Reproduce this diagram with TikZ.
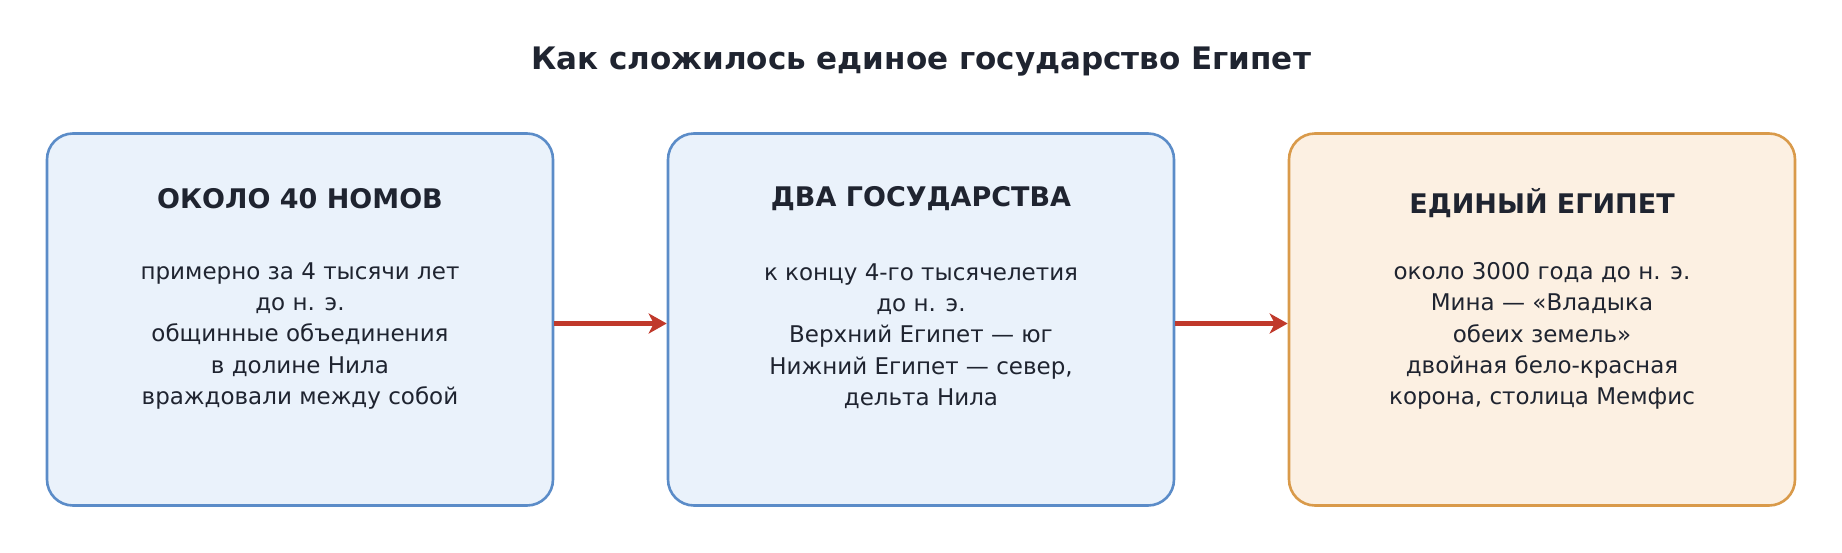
\documentclass[tikz,border=0pt]{standalone}
\usepackage{fontspec}
\setmainfont{DejaVu Sans}
\usetikzlibrary{arrows.meta}
\definecolor{txt}{HTML}{1F2430}
\definecolor{bb}{HTML}{5B8CC8}
\definecolor{bf}{HTML}{EAF2FB}
\definecolor{ob}{HTML}{D99A4A}
\definecolor{of}{HTML}{FCF0E2}
\definecolor{ar}{HTML}{C0392B}
\begin{document}
\begin{tikzpicture}[x=1pt,y=-1pt,
 box/.style={draw=bb,fill=bf,line width=2.6pt,rounded corners=26pt,minimum width=506pt,minimum height=372pt,inner sep=0},
 obox/.style={box,draw=ob,fill=of},
 head/.style={text=txt,font=\bfseries\fontsize{27}{32}\selectfont},
 body/.style={text=txt,align=center,font=\fontsize{23}{31.2}\selectfont},
 arr/.style={draw=ar,line width=4.5pt,-{Stealth[length=18pt,width=20pt,inset=5pt]}}]
\useasboundingbox (0,0) rectangle (1842,552);
\node[text=txt,font=\bfseries\fontsize{31}{36}\selectfont] (t) at (921,62) {Как сложилось единое государство Египет};
\node[box] (b1) at (300,319.5) {};
\node[box] (b2) at (921,319.5) {};
\node[obox] (b3) at (1542,319.5) {};
\node[head] (h1) at (300,199) {ОКОЛО 40 НОМОВ};
\node[head] (h2) at (921,199) {ДВА ГОСУДАРСТВА};
\node[head] (h3) at (1542,203) {ЕДИНЫЙ ЕГИПЕТ};
\node[body] (d1) at (300,336) {примерно за 4 тысячи лет\\до н. э.\\общинные объединения\\в долине Нила\\враждовали между собой};
\node[body] (d2) at (921,336) {к концу 4-го тысячелетия\\до н. э.\\Верхний Египет — юг\\Нижний Египет — север,\\дельта Нила};
\node[body] (d3) at (1542,336) {около 3000 года до н. э.\\Мина — «Владыка\\обеих земель»\\двойная бело-красная\\корона, столица Мемфис};
\draw[arr] ([yshift=-4pt]b1.east) -- ([yshift=-4pt]b2.west);
\draw[arr] ([yshift=-4pt]b2.east) -- ([yshift=-4pt]b3.west);
\end{tikzpicture}
\end{document}
